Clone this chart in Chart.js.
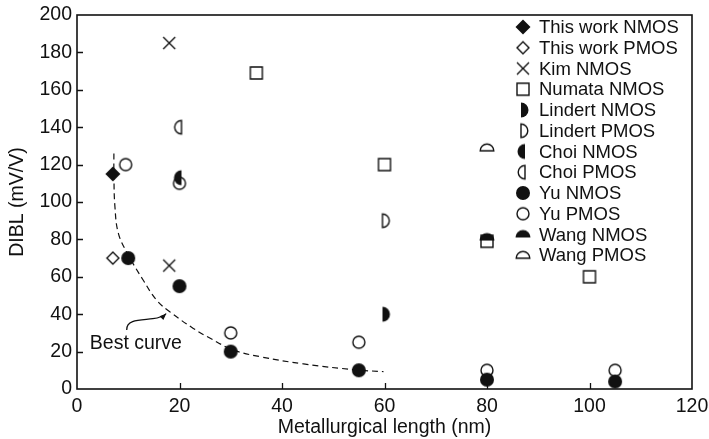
<!DOCTYPE html>
<html>
<head>
<meta charset="utf-8">
<script src="https://cdn.jsdelivr.net/npm/chart.js@4.4.1/dist/chart.umd.min.js"></script>
<style>
  html, body { margin: 0; padding: 0; background: #fff; }
</style>
</head>
<body>
<canvas id="c" width="709" height="439"></canvas>
<script>
/* DIBL vs metallurgical length — scatter with a dashed "best curve" */
const INK = '#111';
const FONT = '"Liberation Sans", Arial, Helvetica, sans-serif';

// axis ticks
const xTicks = [0, 20, 40, 60, 80, 100, 120];
const yTicks = [0, 20, 40, 60, 80, 100, 120, 140, 160, 180, 200];

// series (x = metallurgical length nm, y = DIBL mV/V)
const thisNX = [7], thisNY = [115];
const thisPX = [7], thisPY = [70];
const kimNX = [18, 18], kimNY = [185, 66];
const numataNX = [35, 60, 80, 100], numataNY = [169, 120, 79, 60];
const lindertNX = [60], lindertNY = [40];
const lindertPX = [60], lindertPY = [90];
const choiNX = [20], choiNY = [113];
const choiPX = [20], choiPY = [140];
const yuNX = [10, 20, 30, 55, 80, 105], yuNY = [70, 55, 20, 10, 5, 4];
const yuPX = [9.5, 20, 30, 55, 80, 105], yuPY = [120, 110, 30, 25, 10, 10];
const wangNX = [80], wangNY = [81];
const wangPX = [80], wangPY = [129];

// best curve
const curveX = [7.2, 7.2, 7.4, 8.1, 10, 12.9, 15.5, 18.1, 22.7, 26, 30.5, 35.7, 44.2, 54.6, 59.8];
const curveY = [126, 115, 97.5, 83, 71.7, 58.3, 47.6, 41.3, 32.4, 27.1, 20.9, 17.3, 13.4, 10.2, 9.3];

const pts = (xs, ys) => xs.map((x, i) => ({ x, y: ys[i] }));

// marker glyphs drawn on tiny canvases
function marker(kind) {
  const s = 20, c = s / 2, r = 7.5;
  const cv = document.createElement('canvas');
  cv.width = s; cv.height = s;
  const g = cv.getContext('2d');
  g.fillStyle = INK; g.strokeStyle = INK; g.lineWidth = 1.4;
  g.beginPath();
  switch (kind) {
    case 'diamondF':
    case 'diamondO': {
      const d = kind === 'diamondF' ? 7.5 : 6;
      g.moveTo(c, c - d); g.lineTo(c + d, c); g.lineTo(c, c + d); g.lineTo(c - d, c); g.closePath();
      kind === 'diamondF' ? g.fill() : g.stroke();
      break;
    }
    case 'cross':
      g.moveTo(c - 6, c - 6); g.lineTo(c + 6, c + 6);
      g.moveTo(c + 6, c - 6); g.lineTo(c - 6, c + 6);
      g.stroke();
      break;
    case 'square':
      g.rect(c - 6, c - 6, 12, 12); g.stroke();
      break;
    case 'circleF':
      g.arc(c, c, 7, 0, Math.PI * 2); g.fill();
      break;
    case 'circleO':
      g.arc(c, c, 6, 0, Math.PI * 2); g.stroke();
      break;
    case 'rightF': case 'rightO':
      g.arc(c - 2, c, r - (kind === 'rightO' ? 0.7 : 0), -Math.PI / 2, Math.PI / 2); g.closePath();
      kind === 'rightF' ? g.fill() : g.stroke();
      break;
    case 'leftF': case 'leftO':
      g.arc(c + 2, c, r - (kind === 'leftO' ? 0.7 : 0), Math.PI / 2, Math.PI * 1.5); g.closePath();
      kind === 'leftF' ? g.fill() : g.stroke();
      break;
    case 'topF': case 'topO':
      g.arc(c, c + 3, r - (kind === 'topO' ? 0.7 : 0), Math.PI, Math.PI * 2); g.closePath();
      kind === 'topF' ? g.fill() : g.stroke();
      break;
  }
  return cv;
}

function series(label, xs, ys, kind) {
  return {
    type: 'scatter', label, data: pts(xs, ys),
    pointStyle: marker(kind), pointRadius: 7, order: 0,
  };
}

const datasets = [
  series('This work NMOS', thisNX, thisNY, 'diamondF'),
  series('This work PMOS', thisPX, thisPY, 'diamondO'),
  series('Kim NMOS', kimNX, kimNY, 'cross'),
  series('Numata NMOS', numataNX, numataNY, 'square'),
  series('Lindert NMOS', lindertNX, lindertNY, 'rightF'),
  series('Lindert PMOS', lindertPX, lindertPY, 'rightO'),
  series('Choi NMOS', choiNX, choiNY, 'leftF'),
  series('Choi PMOS', choiPX, choiPY, 'leftO'),
  series('Yu NMOS', yuNX, yuNY, 'circleF'),
  series('Yu PMOS', yuPX, yuPY, 'circleO'),
  series('Wang NMOS', wangNX, wangNY, 'topF'),
  series('Wang PMOS', wangPX, wangPY, 'topO'),
  {
    type: 'line', label: '', data: pts(curveX, curveY),
    borderColor: INK, borderWidth: 1.2, borderDash: [6, 4],
    pointRadius: 0, tension: 0.4, fill: false, order: 10,
  },
];

// frame, inward ticks, in-plot legend, "Best curve" callout
const decor = {
  id: 'decor',
  beforeDatasetsDraw(chart) {
    const { ctx, chartArea: a, scales: { x, y } } = chart;
    ctx.save();
    ctx.strokeStyle = INK;
    ctx.lineWidth = 1.6;
    ctx.strokeRect(a.left, a.top, a.right - a.left, a.bottom - a.top);
    ctx.lineWidth = 1.3;
    ctx.beginPath();
    xTicks.slice(1, -1).forEach(v => {
      const px = Math.round(x.getPixelForValue(v)) + 0.5;
      ctx.moveTo(px, a.bottom); ctx.lineTo(px, a.bottom - 6);
    });
    yTicks.slice(1, -1).forEach(v => {
      const py = Math.round(y.getPixelForValue(v)) + 0.5;
      ctx.moveTo(a.left, py); ctx.lineTo(a.left + 6, py);
    });
    ctx.stroke();
    ctx.restore();
  },
  afterDraw(chart) {
    const { ctx, chartArea: a, scales: { x, y } } = chart;
    ctx.save();
    ctx.fillStyle = INK;
    ctx.textBaseline = 'middle';

    // legend
    ctx.font = '18.5px ' + FONT;
    const mx = a.right - 169, tx = a.right - 153, y0 = a.top + 12, step = 20.75;
    chart.data.datasets.filter(d => d.label).forEach((d, i) => {
      const img = d.pointStyle, yy = y0 + i * step;
      ctx.drawImage(img, mx - img.width / 2, yy - img.height / 2);
      ctx.fillText(d.label, tx, yy + 1);
    });

    // callout
    ctx.font = '19.5px ' + FONT;
    ctx.textAlign = 'left';
    ctx.fillText('Best curve', x.getPixelForValue(2.5), y.getPixelForValue(24.5));
    const P = (vx, vy) => [x.getPixelForValue(vx), y.getPixelForValue(vy)];
    const s = P(9.7, 31.6), c1 = P(9.6, 37.4), c2 = P(12.5, 36.8), m = P(14.8, 37.6),
          q = P(16.6, 38.2), t = P(17.4, 40.3);
    ctx.strokeStyle = INK; ctx.lineWidth = 1.3;
    ctx.beginPath();
    ctx.moveTo(...s);
    ctx.bezierCurveTo(...c1, ...c2, ...m);
    ctx.quadraticCurveTo(...q, ...t);
    ctx.stroke();
    const ang = Math.atan2(t[1] - q[1], t[0] - q[0]);
    ctx.beginPath();
    ctx.moveTo(...t);
    ctx.lineTo(t[0] - 7 * Math.cos(ang - 0.4), t[1] - 7 * Math.sin(ang - 0.4));
    ctx.lineTo(t[0] - 7 * Math.cos(ang + 0.4), t[1] - 7 * Math.sin(ang + 0.4));
    ctx.closePath();
    ctx.fill();
    ctx.restore();
  },
};

const tickFont = { family: FONT, size: 19.5 };

new Chart(document.getElementById('c'), {
  data: { datasets },
  options: {
    responsive: false,
    animation: false,
    layout: { padding: { top: 15, right: 17, left: 0, bottom: 0 } },
    plugins: { legend: { display: false }, tooltip: { enabled: false } },
    scales: {
      x: {
        type: 'linear', min: 0, max: 120,
        afterBuildTicks: s => { s.ticks = xTicks.map(value => ({ value })); },
        afterFit: s => { s.height = 50; s.paddingLeft = 0; s.paddingRight = 0; },
        grid: { display: false, drawTicks: false },
        border: { display: false },
        ticks: { color: INK, font: tickFont, padding: 6, maxRotation: 0 },
        title: { display: true, text: 'Metallurgical length (nm)', color: INK,
                 font: tickFont, padding: { top: 0, bottom: 0 } },
      },
      y: {
        type: 'linear', min: 0, max: 200,
        afterBuildTicks: s => { s.ticks = yTicks.map(value => ({ value })); },
        afterFit: s => { s.width = 77; s.paddingTop = 0; s.paddingBottom = 0; },
        grid: { display: false, drawTicks: false },
        border: { display: false },
        ticks: { color: INK, font: tickFont, padding: 5 },
        title: { display: true, text: 'DIBL (mV/V)', color: INK,
                 font: tickFont, padding: { top: 6, bottom: 0 } },
      },
    },
  },
  plugins: [decor],
});
</script>
</body>
</html>
